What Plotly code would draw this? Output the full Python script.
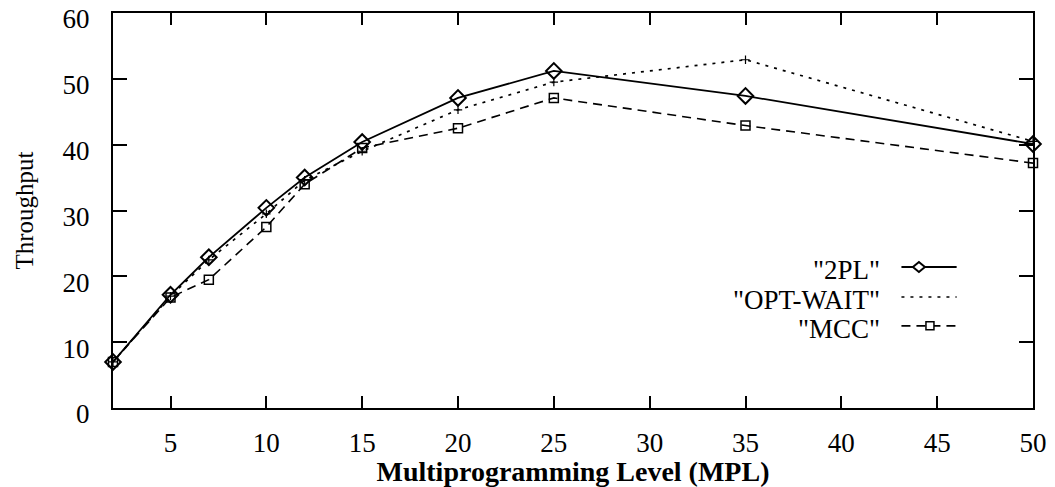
import plotly.graph_objects as go

# Throughput vs multiprogramming level for three concurrency-control schemes
mpl = [2, 5, 7, 10, 12, 15, 20, 25, 35, 50]
tp_2pl = [7.0, 17.2, 22.9, 30.4, 35.0, 40.4, 47.1, 51.2, 47.4, 40.1]
tp_opt_wait = [7.0, 17.0, 22.5, 29.5, 34.6, 39.0, 45.3, 49.5, 52.9, 40.5]
tp_mcc = [7.0, 16.8, 19.5, 27.5, 34.0, 39.5, 42.5, 47.1, 42.9, 37.2]

x_ticks = [5, 10, 15, 20, 25, 30, 35, 40, 45, 50]
y_ticks = [0, 10, 20, 30, 40, 50, 60]

series_names = ['"2PL"', '"OPT-WAIT"', '"MCC"']

FONT = "Liberation Serif"
INK = "black"

fig = go.Figure()

fig.add_trace(go.Scatter(
    x=mpl, y=tp_2pl, name=series_names[0], mode="lines+markers",
    line=dict(color=INK, width=1.8),
    marker=dict(symbol="diamond-open", size=12, color=INK, line=dict(width=2, color=INK)),
    cliponaxis=False, showlegend=False,
))
fig.add_trace(go.Scatter(
    x=mpl, y=tp_opt_wait, name=series_names[1], mode="lines+markers",
    line=dict(color=INK, width=1.7, dash="3px,6px"),
    marker=dict(symbol="cross-thin", size=6, color=INK, line=dict(width=1.2, color=INK)),
    cliponaxis=False, showlegend=False,
))
fig.add_trace(go.Scatter(
    x=mpl, y=tp_mcc, name=series_names[2], mode="lines+markers",
    line=dict(color=INK, width=1.6, dash="9px,6px"),
    marker=dict(symbol="square-open", size=9, color=INK, line=dict(width=1.5, color=INK)),
    cliponaxis=False, showlegend=False,
))

# Hand-built key: label on the left, line sample on the right
key_rows = [0.357, 0.281, 0.208]
key_text_x = 0.836
key_line = (0.857, 0.917)
dashes = ["solid", "3px,6px", "9px,6px"]
shapes = []
annotations = []
for name, yk, dash in zip(series_names, key_rows, dashes):
    annotations.append(dict(
        x=key_text_x, y=yk, xref="paper", yref="paper", text=name,
        showarrow=False, xanchor="right", yanchor="middle", yshift=-3,
        font=dict(family=FONT, size=27, color=INK),
    ))
    shapes.append(dict(
        type="line", xref="paper", yref="paper",
        x0=key_line[0], x1=key_line[1], y0=yk, y1=yk,
        line=dict(color=INK, width=1.8 if dash == "solid" else 1.6, dash=dash),
    ))

# diamond on the 2PL sample
cx, cy = 0.876, key_rows[0]
hw, hh = 6 / 920, 5 / 395
shapes.append(dict(
    type="path", xref="paper", yref="paper",
    path=f"M {cx-hw},{cy} L {cx},{cy+hh} L {cx+hw},{cy} L {cx},{cy-hh} Z",
    fillcolor="white", line=dict(color=INK, width=2),
))
# square on the MCC sample
sx, sy = 0.888, key_rows[2]
sw, sh = 4 / 920, 4 / 395
shapes.append(dict(
    type="rect", xref="paper", yref="paper",
    x0=sx - sw, x1=sx + sw, y0=sy - sh, y1=sy + sh,
    fillcolor="white", line=dict(color=INK, width=1.5),
))

fig.update_layout(
    width=1055, height=487,
    margin=dict(l=113, r=22, t=13, b=79),
    paper_bgcolor="white", plot_bgcolor="white",
    font=dict(family=FONT, color=INK),
    shapes=shapes, annotations=annotations,
)

fig.update_xaxes(
    range=[2, 50], tickvals=x_ticks, ticktext=[str(v) for v in x_ticks],
    ticks="inside", ticklen=12, tickwidth=2, tickcolor=INK,
    showline=True, linewidth=2, linecolor=INK, mirror="ticks",
    showgrid=False, zeroline=False, automargin=False,
    ticklabelstandoff=10, ticklabeloverflow="allow",
    tickfont=dict(family=FONT, size=27, color=INK),
    title=dict(text="<b>Multiprogramming Level (MPL)</b>", standoff=0,
               font=dict(family=FONT, size=28, color=INK)),
)
fig.update_yaxes(
    range=[0, 60], tickvals=y_ticks, ticktext=[str(v) for v in y_ticks],
    ticks="inside", ticklen=14, tickwidth=2, tickcolor=INK,
    showline=True, linewidth=2, linecolor=INK, mirror="ticks",
    showgrid=False, zeroline=False, automargin=False,
    ticklabelstandoff=16, ticklabelshift=6, ticklabeloverflow="allow",
    tickfont=dict(family=FONT, size=27, color=INK),
    title=dict(text="Throughput", standoff=22,
               font=dict(family=FONT, size=25, color=INK)),
)

fig.write_html("out.html")
